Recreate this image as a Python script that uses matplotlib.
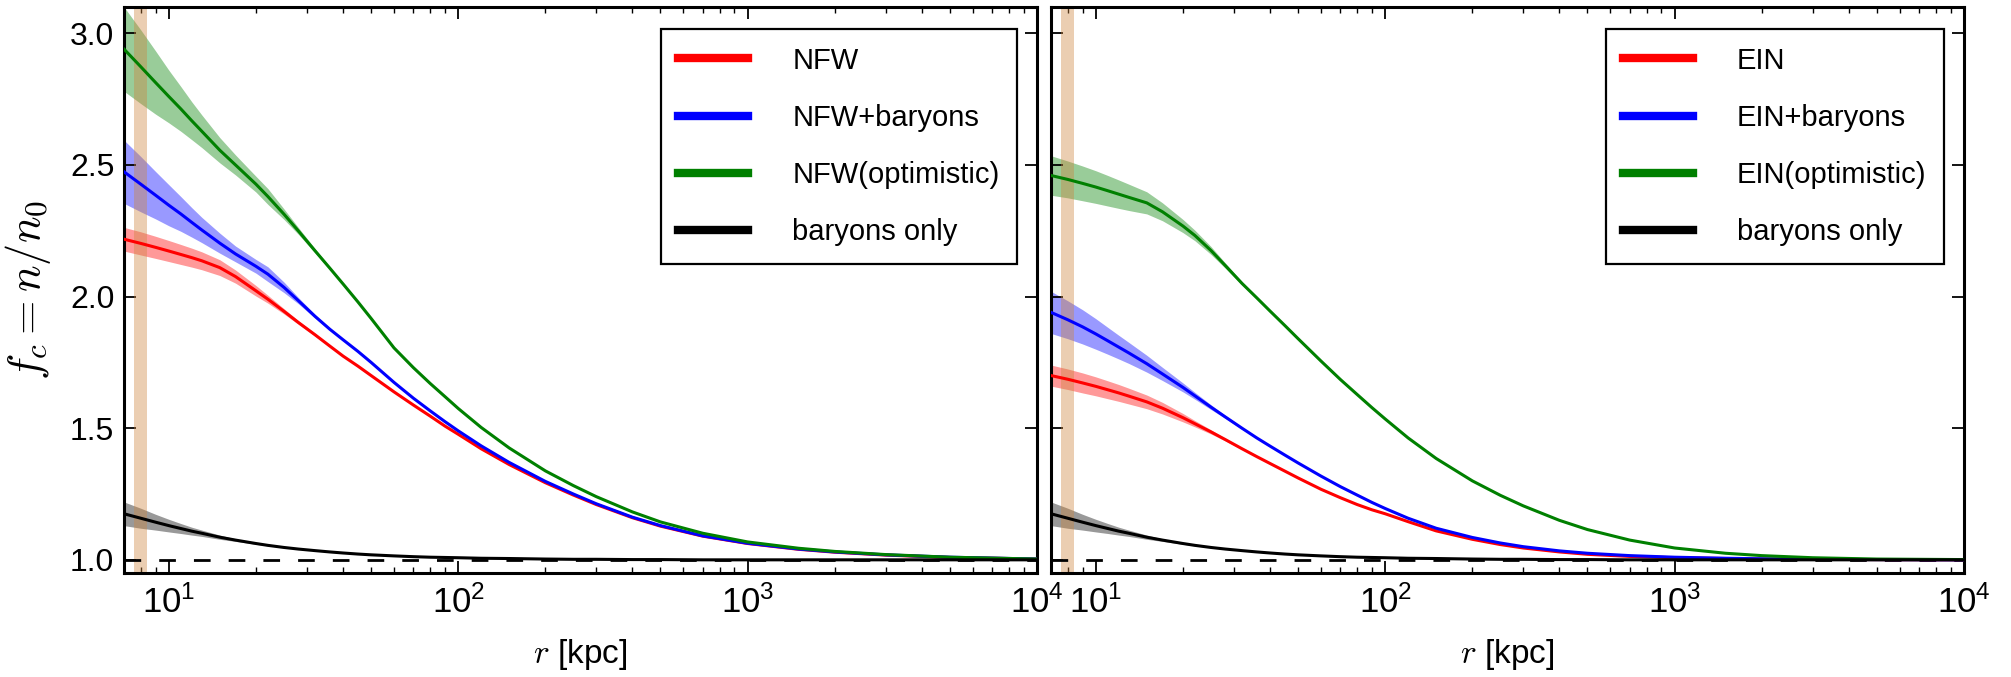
import numpy as np
import matplotlib
matplotlib.use('Agg')
import matplotlib.pyplot as plt

plt.rcParams['font.family'] = ['Liberation Sans', 'DejaVu Sans']
plt.rcParams['mathtext.fontset'] = 'cm'
plt.rcParams['mathtext.default'] = 'regular'

# ---------------- data ----------------
r_kpc = [7, 8, 9, 10, 11, 12, 13, 15, 17, 20, 22, 25, 28, 32, 36, 40, 45, 50, 60, 70,
         80, 90, 100, 120, 150, 200, 250, 300, 400, 500, 700, 1000, 1500, 2000, 3000, 5000, 10000]

# left panel (NFW)
nfw = [2.218, 2.202, 2.187, 2.173, 2.160, 2.148, 2.136, 2.110, 2.076, 2.022, 1.990, 1.944, 1.902,
       1.855, 1.812, 1.774, 1.736, 1.700, 1.638, 1.588, 1.546, 1.508, 1.477, 1.422, 1.362, 1.293,
       1.246, 1.210, 1.160, 1.128, 1.090, 1.062, 1.040, 1.029, 1.018, 1.009, 1.003]
nfw_baryons = [2.474, 2.427, 2.385, 2.347, 2.314, 2.282, 2.253, 2.203, 2.162, 2.115, 2.085, 2.035,
               1.985, 1.925, 1.876, 1.836, 1.792, 1.750, 1.674, 1.614, 1.566, 1.525, 1.490, 1.433,
               1.370, 1.298, 1.250, 1.213, 1.162, 1.130, 1.091, 1.063, 1.041, 1.030, 1.019, 1.010, 1.003]
nfw_optimistic = [2.940, 2.873, 2.813, 2.760, 2.713, 2.668, 2.628, 2.556, 2.500, 2.427, 2.380,
                  2.313, 2.250, 2.174, 2.108, 2.048, 1.980, 1.917, 1.805, 1.730, 1.670, 1.620,
                  1.575, 1.503, 1.425, 1.338, 1.282, 1.240, 1.182, 1.144, 1.101, 1.068, 1.044,
                  1.032, 1.020, 1.010, 1.003]
baryons_only = [1.175, 1.158, 1.143, 1.130, 1.119, 1.109, 1.101, 1.086, 1.075, 1.062, 1.055, 1.047,
                1.041, 1.035, 1.030, 1.026, 1.022, 1.019, 1.015, 1.012, 1.010, 1.009, 1.008, 1.006,
                1.005, 1.003, 1.002, 1.002, 1.001, 1.001, 1.0, 1.0, 1.0, 1.0, 1.0, 1.0, 1.0]

nfw_err = [0.045, 0.044, 0.042, 0.040, 0.038, 0.036, 0.034, 0.030, 0.025, 0.020, 0.015, 0.010,
           0.007, 0.005, 0.003] + [0] * 22
nfw_baryons_err = [0.120, 0.105, 0.090, 0.078, 0.066, 0.056, 0.048, 0.038, 0.030, 0.026, 0.028,
                   0.020, 0.012, 0.007, 0.004, 0.002] + [0] * 21
nfw_optimistic_err = [0.160, 0.140, 0.120, 0.100, 0.085, 0.072, 0.062, 0.048, 0.038, 0.030, 0.030,
                      0.020, 0.013, 0.008, 0.005, 0.003] + [0] * 21
baryons_only_err = [0.045, 0.038, 0.030, 0.024, 0.019, 0.015, 0.012, 0.008, 0.005, 0.003, 0.002,
                    0.001] + [0] * 25

# right panel (EIN)
ein = [1.700, 1.686, 1.672, 1.659, 1.646, 1.634, 1.622, 1.600, 1.576, 1.540, 1.517, 1.486, 1.457,
       1.422, 1.392, 1.366, 1.337, 1.311, 1.268, 1.236, 1.210, 1.190, 1.175, 1.145, 1.110, 1.078,
       1.058, 1.045, 1.030, 1.021, 1.013, 1.008, 1.005, 1.003, 1.002, 1.001, 1.0]
ein_baryons = [1.940, 1.912, 1.885, 1.858, 1.832, 1.808, 1.786, 1.745, 1.706, 1.655, 1.623, 1.580,
               1.543, 1.500, 1.463, 1.432, 1.398, 1.368, 1.318, 1.278, 1.246, 1.218, 1.195, 1.158,
               1.120, 1.085, 1.064, 1.050, 1.034, 1.025, 1.016, 1.010, 1.006, 1.004, 1.002, 1.001, 1.0]
ein_optimistic = [2.460, 2.445, 2.430, 2.416, 2.402, 2.389, 2.377, 2.356, 2.322, 2.268, 2.232,
                  2.175, 2.118, 2.050, 1.995, 1.945, 1.890, 1.840, 1.755, 1.685, 1.628, 1.578,
                  1.535, 1.463, 1.385, 1.300, 1.245, 1.205, 1.150, 1.115, 1.075, 1.045, 1.025,
                  1.016, 1.008, 1.003, 1.001]

ein_err = [0.040, 0.039, 0.038, 0.036, 0.034, 0.032, 0.030, 0.026, 0.022, 0.016, 0.012, 0.008,
           0.005, 0.003] + [0] * 23
ein_baryons_err = [0.080, 0.072, 0.065, 0.058, 0.051, 0.045, 0.040, 0.032, 0.025, 0.017, 0.013,
                   0.009, 0.006, 0.004] + [0] * 23
ein_optimistic_err = [0.075, 0.070, 0.066, 0.062, 0.058, 0.054, 0.050, 0.042, 0.034, 0.025, 0.020,
                      0.015, 0.010, 0.006, 0.004, 0.002] + [0] * 21

solar_band = [7.6, 8.4]
colors = ['red', 'blue', 'green', 'black']
labels_left = ['NFW', 'NFW+baryons', 'NFW(optimistic)', 'baryons only']
labels_right = ['EIN', 'EIN+baryons', 'EIN(optimistic)', 'baryons only']

# ---------------- figure ----------------
W, H = 2011, 677
fig = plt.figure(figsize=(W / 100, H / 100), dpi=100)
bottom = 1 - 573 / H
height = (573 - 7) / H
axL = fig.add_axes([124 / W, bottom, 913 / W, height])
axR = fig.add_axes([1051 / W, bottom, 913 / W, height])

r = np.array(r_kpc, dtype=float)


def draw(ax, series, errs, labels, show_ylabels):
    for y, e, c, lab in zip(series, errs, colors, labels):
        y = np.array(y)
        e = np.array(e)
        ax.fill_between(r, y - e, y + e, color=c, alpha=0.4, lw=0, zorder=1)
        ax.plot(r, y, color=c, lw=2.2, label=lab, zorder=3)
    ax.axvspan(solar_band[0], solar_band[1], color='peru', alpha=0.4, lw=0, zorder=2)
    ax.axhline(1.0, color='black', lw=2.0, ls=(0, (6.0, 6.5)), zorder=2.5)
    ax.set_xscale('log')
    ax.set_xlim(7, 1e4)
    ax.set_ylim(0.95, 3.1)
    ax.set_yticks([1.0, 1.5, 2.0, 2.5, 3.0])
    ax.set_yticklabels(['1.0', '1.5', '2.0', '2.5', '3.0'] if show_ylabels else [])
    ax.tick_params(which='both', direction='in', top=True, right=True)
    ax.tick_params(axis='y', labelsize=23, pad=7)
    ax.tick_params(axis='x', labelsize=25, pad=9)
    ax.tick_params(which='major', length=8.5, width=1.3)
    ax.tick_params(which='minor', length=4.3, width=1.0)
    ax.tick_params(axis='y', which='minor', left=False, right=False)
    for s in ax.spines.values():
        s.set_linewidth(2.2)
    ax.set_xlabel(r'$\mathit{r}$ [kpc]', fontsize=24, labelpad=12)
    leg = ax.legend(loc='upper right', bbox_to_anchor=(0.978, 0.961), borderaxespad=0,
                    fontsize=21, frameon=True, fancybox=False, framealpha=1,
                    edgecolor='black', handlelength=2.4, handletextpad=1.5,
                    labelspacing=1.0, borderpad=0.6)
    leg.get_frame().set_linewidth(1.6)
    for ln in leg.get_lines():
        ln.set_linewidth(6)


draw(axL, [nfw, nfw_baryons, nfw_optimistic, baryons_only],
     [nfw_err, nfw_baryons_err, nfw_optimistic_err, baryons_only_err], labels_left, True)
draw(axR, [ein, ein_baryons, ein_optimistic, baryons_only],
     [ein_err, ein_baryons_err, ein_optimistic_err, baryons_only_err], labels_right, False)

axL.set_ylabel(r'$\mathit{f_c}\mathrm{=}\mathit{n}\mathrm{/}\mathit{n}_\mathrm{0}$', fontsize=32, labelpad=12)

fig.savefig('out.png', dpi=100)
